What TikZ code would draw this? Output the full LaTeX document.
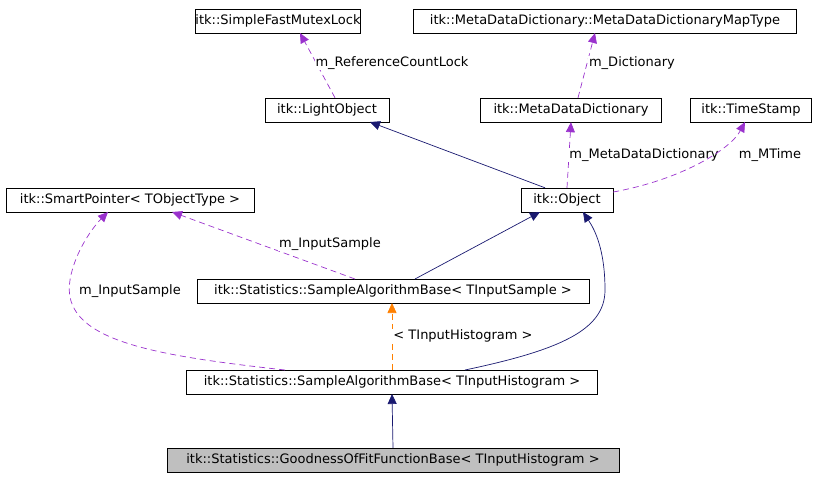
\documentclass[tikz,border=0pt]{standalone}
\usepackage{fontspec}
\setmainfont{DejaVu Sans}
\usetikzlibrary{arrows.meta,positioning}
\tikzset{x=1pt, y=-1pt}
\tikzset{cls/.style={draw,fill=white,rectangle,inner sep=0pt,minimum height=24pt,text height=10pt,text depth=3pt,node font=\fontsize{13}{15}\selectfont}}
\tikzset{cur/.style={cls,fill=black!25}}
\tikzset{inh/.style={draw={rgb,255:red,25;green,25;blue,112},line width=0.7pt,-{Triangle[length=10pt,width=9pt]}}}
\tikzset{use/.style={draw={rgb,255:red,154;green,50;blue,205},line width=0.7pt,dash pattern=on 6pt off 4pt,-{Triangle[length=10pt,width=9pt]}}}
\tikzset{tpl/.style={draw=orange,line width=0.7pt,dash pattern=on 6pt off 4pt,-{Triangle[length=10pt,width=9pt]}}}
\tikzset{lbl/.style={inner sep=1pt,fill=white,node font=\fontsize{13}{15}\selectfont}}

\begin{document}
\begin{tikzpicture}
  \useasboundingbox (0,0) rectangle (823,477);

  \node[cls,minimum width=159pt] (mutex) at (278,21) {itk::SimpleFastMutexLock};
  \node[cls,minimum width=383pt] (maptype) at (605,21) {itk::MetaDataDictionary::MetaDataDictionaryMapType};
  \node[cls,minimum width=124pt] (light) at (327,110) {itk::LightObject};
  \node[cls,minimum width=181pt] (dict) at (571,110) {itk::MetaDataDictionary};
  \node[cls,minimum width=121pt] (stamp) at (751,110) {itk::TimeStamp};
  \node[cls,minimum width=248pt] (smart) at (130,200) {itk::SmartPointer< TObjectType >};
  \node[cls,minimum width=92pt] (object) at (567,200) {itk::Object};
  \node[cls,minimum width=392pt] (sample) at (393,291) {itk::Statistics::SampleAlgorithmBase< TInputSample >};
  \node[cls,minimum width=411pt] (histo) at (392,382) {itk::Statistics::SampleAlgorithmBase< TInputHistogram >};
  \node[cur,minimum width=452pt] (fit) at (393,460) {itk::Statistics::GoodnessOfFitFunctionBase< TInputHistogram >};

  % members
  \draw[use] (light.north) ++(8,0) -- (300,33);
  \node[lbl] (lrefcount) at (392,63) {m\_ReferenceCountLock};
  \draw[use] (dict.north) ++(7,0) -- (595,33);
  \node[lbl] (ldict) at (632,63) {m\_Dictionary};
  \draw[use] (object.north) -- (dict.south);
  \node[lbl] (lmeta) at (644,155) {m\_MetaDataDictionary};
  \draw[use] (object.east) ++(0,-8) .. controls (680,180) and (730,150) .. (745,122);
  \node[lbl] (lmtime) at (770,155) {m\_MTime};
  \draw[use] (355,279) -- (172,212);
  \node[lbl] (lsample) at (330,244) {m\_InputSample};
  \draw[use] (285,370) .. controls (150,355) and (60,340) .. (70,280) .. controls (75,250) and (95,225) .. (108,212);
  \node[lbl] (lhisto) at (130,291) {m\_InputSample};

  % inheritance
  \draw[inh] (object.north) ++(-22,0) -- (370,122);
  \draw[inh] (415,279) -- (540,212);
  \draw[inh] (465,370) .. controls (560,350) and (605,330) .. (605,290) .. controls (605,250) and (595,230) .. (583,212);
  \draw[tpl] (histo.north) -- (392,303);
  \node[lbl] (ltpl) at (463,336) {< TInputHistogram >};
  \draw[inh] (fit.north) -- (392,394);
\end{tikzpicture}
\end{document}
